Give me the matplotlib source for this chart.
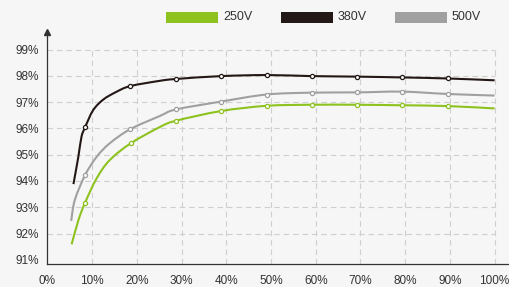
import numpy as np
import matplotlib.pyplot as plt
from matplotlib.patches import Rectangle, PathPatch
from matplotlib.path import Path

import matplotlib as mpl
mpl.rcParams['font.family'] = ['Liberation Sans', 'DejaVu Sans']
mpl.rcParams['font.size'] = 8.5

# load (%) vs efficiency (%)
load_250 = [5.4, 6.9, 8.4, 11.0, 13.9, 18.6, 25.1, 28.7, 38.8, 49.0, 59.1, 69.2, 79.3, 89.5, 100]
eff_250 = [91.59, 92.50, 93.17, 94.10, 94.79, 95.43, 96.05, 96.29, 96.66, 96.86, 96.90, 96.90, 96.88, 96.85, 96.76]
marks_250 = [2, 5, 7, 8, 9, 10, 11, 12, 13]

load_380 = [5.8, 6.9, 7.6, 8.4, 10.2, 12.5, 15.4, 18.5, 25.1, 28.7, 38.8, 49.0, 59.1, 69.2, 79.3, 89.5, 100]
eff_380 = [93.88, 94.92, 95.68, 96.04, 96.69, 97.10, 97.39, 97.61, 97.81, 97.88, 97.99, 98.03, 97.99, 97.97, 97.94, 97.90, 97.83]
marks_380 = [3, 7, 9, 10, 11, 12, 13, 14, 15]

load_500 = [5.3, 6.1, 8.4, 11.0, 13.9, 18.5, 25.1, 28.7, 38.8, 49.0, 59.1, 69.2, 79.3, 89.5, 100]
eff_500 = [92.48, 93.27, 94.22, 94.92, 95.43, 95.97, 96.47, 96.72, 97.02, 97.29, 97.36, 97.37, 97.40, 97.31, 97.25]
marks_500 = [2, 5, 7, 8, 9, 10, 11, 12, 13]

series = [
    ('250V', load_250, eff_250, marks_250, '#8DC21F'),
    ('380V', load_380, eff_380, marks_380, '#231815'),
    ('500V', load_500, eff_500, marks_500, '#A0A0A0'),
]

x_ticks = np.arange(0, 101, 10)
y_ticks = np.arange(91, 100, 1)

bg = '#F6F6F6'
txt = '#333333'


def smooth_path(xs, ys):
    # Catmull-Rom through the points, drawn as cubic bezier segments
    p = np.column_stack([xs, ys]).astype(float)
    p_ext = np.vstack([p[0], p, p[-1]])
    verts = [p[0]]
    codes = [Path.MOVETO]
    for i in range(1, len(p_ext) - 2):
        p0, p1, p2, p3 = p_ext[i - 1], p_ext[i], p_ext[i + 1], p_ext[i + 2]
        verts += [p1 + (p2 - p0) / 6, p2 - (p3 - p1) / 6, p2]
        codes += [Path.CURVE4] * 3
    return Path(verts, codes)


fig = plt.figure(figsize=(5.1, 2.87), dpi=100, facecolor=bg)
ax = fig.add_axes([47.5 / 510, 23 / 287, 460.5 / 510, 232.3 / 287], facecolor=bg)
ax.set_xlim(0, 103)
ax.set_ylim(90.84, 99.68)

# dashed grid, stopping at 99% / 100%
ax.hlines(y_ticks[1:], 0, 100, colors='#CFCFCF', linewidth=0.8, linestyles=(0, (5, 3.5)), zorder=1)
ax.vlines(x_ticks[1:], 90.84, 99, colors='#CFCFCF', linewidth=0.8, linestyles=(0, (5, 3.5)), zorder=1)

for name, xs, ys, marks, color in series:
    ax.add_patch(PathPatch(smooth_path(xs, ys), facecolor='none', edgecolor=color,
                           linewidth=1.5, zorder=3, capstyle='butt'))
    ax.plot([xs[i] for i in marks], [ys[i] for i in marks], linestyle='none',
            marker='o', markersize=3, markerfacecolor='white',
            markeredgecolor=color, markeredgewidth=0.9, zorder=4)

for side in ['top', 'right']:
    ax.spines[side].set_visible(False)
for side in ['left', 'bottom']:
    ax.spines[side].set_color(txt)
    ax.spines[side].set_linewidth(0.9)

# arrow heads on the axes
ax.plot(0, 1, '^', color=txt, markersize=4, transform=ax.get_xaxis_transform(), clip_on=False)
ax.plot(1, 0, '>', color=txt, markersize=4, transform=ax.get_yaxis_transform(), clip_on=False)

ax.set_xticks(x_ticks)
ax.set_xticklabels(['%d%%' % v for v in x_ticks])
ax.set_yticks(y_ticks)
ax.set_yticklabels(['%d%%' % v for v in y_ticks])
ax.tick_params(axis='both', length=0, colors=txt, labelsize=8.5)
ax.tick_params(axis='x', pad=8)
ax.tick_params(axis='y', pad=6)

# legend across the top
W, H = 510.0, 287.0
for i, (name, xs, ys, marks, color) in enumerate(series):
    x0 = 166 + i * 114.5
    fig.patches.append(Rectangle((x0 / W, 1 - 23 / H), 52 / W, 11 / H,
                                 transform=fig.transFigure, facecolor=color, edgecolor='none'))
    fig.text((x0 + 57) / W, 1 - 17.5 / H, name, color=txt, fontsize=9, va='center', ha='left')

plt.savefig('out.png', dpi=100, facecolor=bg)
plt.close()
